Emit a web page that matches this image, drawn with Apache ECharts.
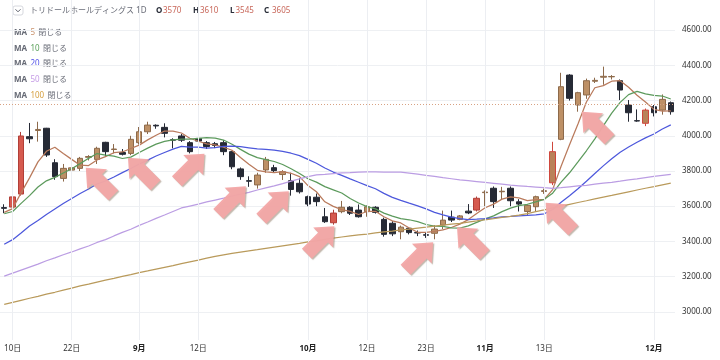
<!DOCTYPE html>
<html><head><meta charset="utf-8">
<script src="https://cdn.jsdelivr.net/npm/echarts@6/dist/echarts.min.js"></script>
<style>html,body{margin:0;padding:0;background:#fff}#c{width:720px;height:360px}</style>
</head><body><div id="c"></div>
<script>
const categories = [
 '2023-08-09','2023-08-10','2023-08-14','2023-08-15','2023-08-16','2023-08-17','2023-08-18','2023-08-21','2023-08-22','2023-08-23',
 '2023-08-24','2023-08-25','2023-08-28','2023-08-29','2023-08-30','2023-08-31','2023-09-01','2023-09-04','2023-09-05','2023-09-06',
 '2023-09-07','2023-09-08','2023-09-11','2023-09-12','2023-09-13','2023-09-14','2023-09-15','2023-09-19','2023-09-20','2023-09-21',
 '2023-09-22','2023-09-25','2023-09-26','2023-09-27','2023-09-28','2023-09-29','2023-10-02','2023-10-03','2023-10-04','2023-10-05',
 '2023-10-06','2023-10-10','2023-10-11','2023-10-12','2023-10-13','2023-10-16','2023-10-17','2023-10-18','2023-10-19','2023-10-20',
 '2023-10-23','2023-10-24','2023-10-25','2023-10-26','2023-10-27','2023-10-30','2023-10-31','2023-11-01','2023-11-02','2023-11-06',
 '2023-11-07','2023-11-08','2023-11-09','2023-11-10','2023-11-13','2023-11-14','2023-11-15','2023-11-16','2023-11-17','2023-11-20',
 '2023-11-21','2023-11-22','2023-11-24','2023-11-27','2023-11-28','2023-11-29','2023-11-30','2023-12-01','2023-12-04','2023-12-05'];

const opens = [3592,3595,3669,3995,4030,4043,3847,3758,3805,3815,
 3878,3866,3963,3922,3905,3900,3961,4023,4060,4048,
 3978,3999,3961,3985,3961,3955,3961,3910,3812,3745,
 3721,3806,3819,3780,3745,3730,3654,3651,3540,3506,
 3569,3594,3578,3569,3594,3525,3503,3455,3475,3450,
 3438,3446,3493,3538,3525,3572,3578,3677,3702,3682,
 3702,3625,3570,3597,3684,3733,3980,4345,4175,4232,
 4310,4333,4335,4313,4175,4086,4071,4165,4146,4188];
const closes = [3588,3653,3999,3983,4036,3891,3768,3815,3818,3872,
 3882,3929,3910,3925,3895,3980,4023,4061,4056,4014,
 3975,3975,3910,3970,3939,3945,3910,3824,3768,3742,
 3777,3866,3802,3796,3695,3682,3612,3626,3512,3561,
 3594,3560,3540,3597,3565,3440,3443,3481,3450,3448,
 3435,3470,3521,3521,3545,3562,3645,3680,3626,3685,
 3631,3612,3605,3654,3688,3910,4279,4213,4245,4313,
 4315,4338,4337,4260,4131,4084,4146,4131,4207,4137];
const lows = [3560,3585,3660,3958,3967,3880,3750,3740,3795,3800,
 3860,3840,3881,3900,3888,3890,3950,4010,4040,3991,
 3929,3965,3900,3960,3925,3930,3890,3810,3750,3710,
 3700,3790,3790,3749,3660,3672,3600,3600,3505,3495,
 3560,3550,3535,3540,3558,3427,3430,3412,3440,3430,
 3420,3412,3469,3510,3520,3555,3570,3600,3590,3640,
 3600,3570,3545,3570,3670,3720,3975,4200,4137,4210,
 4300,4290,4320,4203,4080,4080,4055,4110,4120,4120];
const highs = [3611,3670,4022,4073,4080,4045,3867,3840,3830,3880,
 3890,3938,3966,3953,3925,4000,4050,4080,4065,4071,
 3986,4010,3970,3995,3970,3965,3975,3915,3820,3770,
 3790,3880,3835,3805,3790,3760,3660,3672,3590,3580,
 3630,3600,3610,3605,3600,3535,3515,3490,3480,3462,
 3450,3492,3575,3575,3550,3612,3655,3690,3712,3710,
 3712,3640,3610,3660,3700,3966,4358,4350,4250,4325,
 4330,4393,4345,4320,4203,4150,4155,4175,4235,4195];

const ma5 = [3565,3586,3676,3761,3852,3912,3935,3899,3866,3833,
 3831,3863,3882,3904,3908,3928,3947,3977,4003,4027,
 4026,4016,3986,3969,3954,3948,3935,3918,3877,3838,
 3804,3795,3791,3797,3787,3768,3717,3682,3625,3599,
 3581,3571,3553,3570,3571,3540,3517,3505,3476,3452,
 3451,3457,3465,3479,3498,3524,3559,3591,3612,3640,
 3653,3647,3632,3637,3638,3694,3827,3949,4067,4192,
 4273,4285,4310,4313,4276,4230,4192,4150,4140,4141];
const ma10 = [3557,3570,3616,3660,3709,3744,3764,3789,3813,3842,
 3872,3899,3890,3885,3871,3879,3905,3930,3953,3968,
 3977,3981,3981,3986,3990,3987,3976,3952,3923,3896,
 3876,3865,3854,3837,3813,3786,3756,3737,3711,3693,
 3675,3644,3618,3598,3585,3561,3544,3529,3523,3512,
 3496,3487,3485,3477,3475,3488,3508,3528,3545,3569,
 3589,3603,3611,3625,3639,3674,3737,3790,3852,3915,
 3983,4056,4129,4190,4234,4252,4238,4230,4226,4209];
const ma20 = [3384,3410,3448,3488,3519,3553,3584,3615,3644,3672,
 3698,3726,3743,3766,3791,3814,3840,3862,3885,3905,
 3924,3940,3936,3935,3930,3933,3940,3941,3938,3932,
 3926,3923,3918,3911,3901,3887,3866,3844,3817,3794,
 3775,3755,3736,3717,3699,3673,3650,3633,3617,3602,
 3585,3565,3551,3538,3530,3524,3526,3529,3534,3540,
 3542,3545,3548,3551,3557,3581,3622,3659,3699,3742,
 3786,3829,3870,3907,3936,3963,3988,4010,4039,4062];
const ma50 = [3203,3220,3237,3254,3271,3290,3306,3324,3340,3358,
 3374,3394,3410,3431,3451,3469,3491,3510,3531,3550,
 3570,3590,3601,3612,3624,3635,3646,3658,3668,3679,
 3692,3704,3715,3728,3743,3755,3768,3778,3781,3785,
 3789,3791,3794,3795,3795,3794,3794,3793,3788,3782,
 3775,3769,3762,3756,3749,3745,3740,3735,3730,3725,
 3720,3716,3712,3709,3705,3702,3705,3710,3715,3719,
 3725,3731,3736,3742,3749,3755,3762,3769,3775,3781];
const ma100 = [3042,3053,3065,3077,3088,3100,3111,3123,3134,3147,
 3157,3169,3180,3190,3201,3211,3222,3232,3243,3253,
 3263,3274,3284,3294,3305,3315,3324,3332,3339,3346,
 3353,3361,3368,3375,3382,3389,3397,3403,3411,3418,
 3425,3431,3437,3442,3448,3454,3459,3465,3470,3476,
 3481,3487,3493,3498,3503,3510,3516,3523,3529,3536,
 3542,3549,3558,3569,3579,3590,3601,3611,3621,3631,
 3642,3652,3661,3672,3682,3692,3702,3711,3721,3731];

const tickDates  = ['2023-08-10','2023-08-22','2023-09-01','2023-09-12','2023-10-02','2023-10-12','2023-10-23','2023-11-01','2023-11-13','2023-12-01'];
const tickLabels = ['10日','22日','9月','12日','10月','12日','23日','11月','13日','12月'];
const monthTicks = ['9月','10月','11月','12月'];

const redUpDates = ['2023-08-10','2023-08-14','2023-10-05','2023-10-31'];
const redEdgeDates = ['2023-11-14','2023-11-30'];

// annotation arrows: [category position, price, direction]
const arrowPos   = [11.3, 16.3, 22.1, 27.0, 32.1, 37.5, 49.2, 55.3, 65.8, 70.1];
const arrowPrice = [3740, 3797, 3820, 3635, 3607, 3408, 3317, 3402, 3541, 4058];
const arrowDir   = ['ul','ul','ur','ur','ur','ur','ur','ul','ul','ul'];

const lastPrice = 4137;
const dottedLevel = 4180;
const titleText = 'トリドールホールディングス 1D';
const ohlcKeys = ['O','H','L','C'];
const ohlcVals = [3570, 3610, 3545, 3605];
const maNames = ['5','10','20','50','100'];
const maColors = ['#b97a5c','#5c9a5c','#4d58dc','#bb9de3','#b99a5b'];
const maLegendColors = ['#c9926c','#5aa05a','#5050e8','#c59be6','#d6a040'];

const FONT = '"Noto Sans","Noto Sans CJK JP",sans-serif';

const candleData = categories.map((d, i) => {
  const item = { value: [opens[i], closes[i], lows[i], highs[i]] };
  if (redUpDates.includes(d)) item.itemStyle = { color: '#d65a4f', borderColor: '#b23f38' };
  else if (redEdgeDates.includes(d)) item.itemStyle = { color: '#b98259', borderColor: '#cf473d' };
  return item;
});

const arrowPath = 'path://M50,0 L100,41 L75,41 L75,100 L25,100 L25,41 L0,41 Z';
const arrowData = arrowPos.map((p, i) => ({
  value: [p, arrowPrice[i]],
  symbolRotate: arrowDir[i] === 'ul' ? 45 : -45
}));

const maSeries = [ma5, ma10, ma20, ma50, ma100].map((arr, k) => ({
  type: 'line', name: 'MA' + maNames[k], data: arr, symbol: 'none', silent: true,
  lineStyle: { color: maColors[k], width: 1.25 }, z: 3
}));

const graphics = [
  { type: 'rect', shape: { x: 13, y: 6, width: 10, height: 9, r: 2 }, style: { fill: '#fff', stroke: '#d6d8de', lineWidth: 1 } },
  { type: 'polyline', shape: { points: [[15.5, 9.3], [18, 11.8], [20.5, 9.3]] }, style: { stroke: '#5d606b', lineWidth: 1, fill: null } },
  { type: 'text', x: 30, y: 10.7, style: { text: titleText, fill: '#6a6d78', font: '8px ' + FONT, verticalAlign: 'middle' } }
];
const keyX = [156, 193, 230, 264];
const valX = [163, 200, 235.5, 272];
ohlcKeys.forEach((k, i) => {
  graphics.push({ type: 'text', x: keyX[i], y: 10.7, style: { text: k, fill: '#2a2e39', font: 'bold 8px ' + FONT, verticalAlign: 'middle' } });
  graphics.push({ type: 'text', x: valX[i], y: 10.7, style: { text: String(ohlcVals[i]), fill: '#c8675a', font: '8px ' + FONT, verticalAlign: 'middle' } });
});
const maLegendY = [32.3, 48.3, 64.2, 80.2, 96.2];
maNames.forEach((n, i) => {
  graphics.push({ type: 'text', x: 14, y: maLegendY[i], style: {
    text: '{a|MA} {n|' + n + '} {b|閉じる}', verticalAlign: 'middle',
    rich: {
      a: { fill: '#666a75', font: 'bold 8px ' + FONT },
      n: { fill: maLegendColors[i], font: '8px ' + FONT },
      b: { fill: '#6a6d78', font: '8px ' + FONT }
    }
  }});
});

const chart = echarts.init(document.getElementById('c'), null, { renderer: 'canvas' });
chart.setOption({
  animation: false,
  backgroundColor: '#ffffff',
  grid: { left: -1.6, right: 45, top: 0, bottom: 20 },
  xAxis: [{
    type: 'category', data: categories, boundaryGap: true,
    axisLine: { show: false }, axisTick: { show: false }, splitLine: { show: false },
    axisLabel: {
      interval: (idx, val) => tickDates.includes(val),
      margin: 5, fontSize: 8, color: '#333', fontFamily: FONT,
      formatter: (val) => {
        const t = tickLabels[tickDates.indexOf(val)];
        return monthTicks.includes(t) ? '{m|' + t + '}' : t;
      },
      rich: { m: { fontWeight: 'bold', fontSize: 8, color: '#222', fontFamily: FONT } }
    }
  }, {
    type: 'value', min: -0.5, max: categories.length - 0.5, show: false
  }],
  yAxis: {
    type: 'value', position: 'right', min: 2839.8, max: 4771.6, splitNumber: 9, scale: true,
    axisLine: { show: false }, axisTick: { show: false },
    axisLabel: { margin: 7, fontSize: 8, color: '#333', fontFamily: FONT,
      showMinLabel: false, showMaxLabel: false, formatter: v => v.toFixed(2) },
    splitLine: { lineStyle: { color: '#eef0f3', width: 1 }, showMinLine: false, showMaxLine: false }
  },
  graphic: graphics,
  series: [
    {
      type: 'line', data: closes, symbol: 'none', silent: true, z: 1,
      lineStyle: { opacity: 0 },
      markLine: {
        silent: true, symbol: 'none', animation: false,
        label: { show: false },
        lineStyle: { color: '#eceef2', type: 'solid', width: 1 },
        data: tickDates.map(d => ({ xAxis: d }))
      }
    },
    {
      type: 'candlestick', data: candleData, barWidth: 6, z: 2,
      itemStyle: { color: '#bd9066', color0: '#262a35', borderColor: '#8d6a4b', borderColor0: '#262a35', borderWidth: 1 },
      markLine: {
        silent: true, symbol: 'none', animation: false,
        data: [
          { yAxis: dottedLevel, lineStyle: { type: [1, 2], color: '#d8a284', width: 1 }, label: { show: false } },
          { yAxis: lastPrice, lineStyle: { opacity: 0 },
            label: { show: true, position: 'end', distance: 1, formatter: lastPrice.toFixed(2),
              backgroundColor: '#131722', color: '#fff', fontSize: 8, fontFamily: FONT, padding: [3, 4, 2, 4] } }
        ]
      }
    },
    ...maSeries,
    {
      type: 'scatter', xAxisIndex: 1, data: arrowData, z: 10, silent: true,
      symbol: arrowPath, symbolSize: [28, 39],
      itemStyle: { color: '#f3a7a6', opacity: 0.95, shadowColor: 'rgba(140,120,100,0.55)', shadowOffsetX: 1.2, shadowOffsetY: 1.2, shadowBlur: 1 }
    }
  ]
});
</script></body></html>
